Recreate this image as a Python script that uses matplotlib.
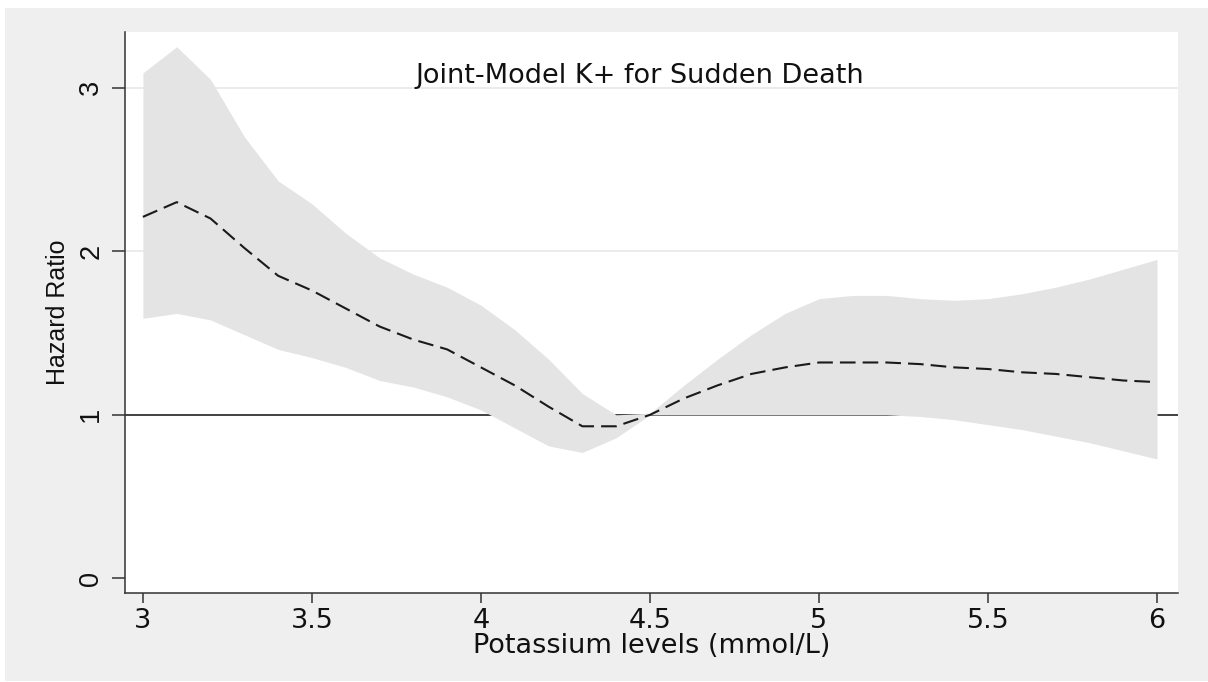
import numpy as np
import matplotlib
matplotlib.use('agg')
import matplotlib.pyplot as plt
from matplotlib.patches import Rectangle

plt.rcParams['font.family'] = ['DejaVu Sans']
ROT_FONT = ['Liberation Sans', 'DejaVu Sans']

# potassium levels (mmol/L)
potassium = [3.0, 3.1, 3.2, 3.3, 3.4, 3.5, 3.6, 3.7, 3.8, 3.9,
             4.0, 4.1, 4.2, 4.3, 4.4, 4.5, 4.6, 4.7, 4.8, 4.9,
             5.0, 5.1, 5.2, 5.3, 5.4, 5.5, 5.6, 5.7, 5.8, 5.9, 6.0]

hr = [2.21, 2.30, 2.20, 2.02, 1.85, 1.76, 1.65, 1.54, 1.46, 1.40,
      1.29, 1.18, 1.05, 0.93, 0.93, 1.00, 1.10, 1.18, 1.25, 1.29,
      1.32, 1.32, 1.32, 1.31, 1.29, 1.28, 1.26, 1.25, 1.23, 1.21, 1.20]

hr_upper = [3.09, 3.25, 3.05, 2.70, 2.43, 2.29, 2.11, 1.96, 1.86, 1.78,
            1.67, 1.52, 1.34, 1.13, 1.00, 1.01, 1.18, 1.34, 1.49, 1.62,
            1.71, 1.73, 1.73, 1.71, 1.70, 1.71, 1.74, 1.78, 1.83, 1.89, 1.95]

hr_lower = [1.59, 1.62, 1.58, 1.49, 1.40, 1.35, 1.29, 1.21, 1.17, 1.11,
            1.03, 0.92, 0.81, 0.77, 0.86, 1.00, 1.00, 1.00, 1.00, 1.00,
            1.00, 1.00, 1.00, 0.99, 0.97, 0.94, 0.91, 0.87, 0.83, 0.78, 0.73]

xticks = [3, 3.5, 4, 4.5, 5, 5.5, 6]
xticklabels = ['3', '3.5', '4', '4.5', '5', '5.5', '6']
yticks = [0, 1, 2, 3]

W, H = 1208, 682
fig = plt.figure(figsize=(W / 100, H / 100), dpi=100)
fig.patch.set_facecolor('white')
# stata-style grey outer region
bg = Rectangle((5 / W, 0.0015), 1, (H - 8) / H - 0.0015,
               transform=fig.transFigure, facecolor='#efefef',
               edgecolor='none', zorder=-10)
fig.add_artist(bg)

ax = fig.add_axes([125 / W, (H - 593) / H, (1178 - 125) / W, (593 - 32) / H])
ax.set_facecolor('white')

for yv in [2, 3]:
    ax.axhline(yv, color='#e8e8e8', lw=1.2, zorder=1)
ax.axhline(1, color='#333333', lw=1.3, zorder=1)

ax.fill_between(potassium, hr_lower, hr_upper, color='#e4e4e4', lw=0, zorder=2)
ax.plot(potassium, hr, color='#1a1a1a', lw=1.5, dashes=(7.5, 3.4), zorder=3)

ax.set_xlim(2.947, 6.062)
ax.set_ylim(-0.089, 3.34)

ax.spines['top'].set_visible(False)
ax.spines['right'].set_visible(False)
for s in ['left', 'bottom']:
    ax.spines[s].set_color('#333333')
    ax.spines[s].set_linewidth(1.1)

ax.set_xticks(xticks)
ax.set_xticklabels(xticklabels, fontsize=19.5)
ax.set_yticks(yticks)
ax.set_yticklabels([str(v) for v in yticks], rotation=90, va='center',
                   family=ROT_FONT, fontsize=19.5)
ax.tick_params(axis='x', length=7.2, width=1.1, color='#333333', pad=3.6,
               labelcolor='#111111')
ax.tick_params(axis='y', length=9.4, width=1.1, color='#333333', pad=5.5,
               labelcolor='#111111')

ax.set_xlabel('Potassium levels (mmol/L)', fontsize=19.5, labelpad=-1, color='#111111')
ax.set_ylabel('Hazard Ratio', fontsize=18, labelpad=6, color='#111111',
              family=ROT_FONT)

ax.text((640 - 125) / 1053, (593 - 83) / 561, 'Joint-Model K+ for Sudden Death',
        transform=ax.transAxes, ha='center', va='baseline', fontsize=19.5,
        color='#111111')

fig.savefig('out.png', dpi=100)
